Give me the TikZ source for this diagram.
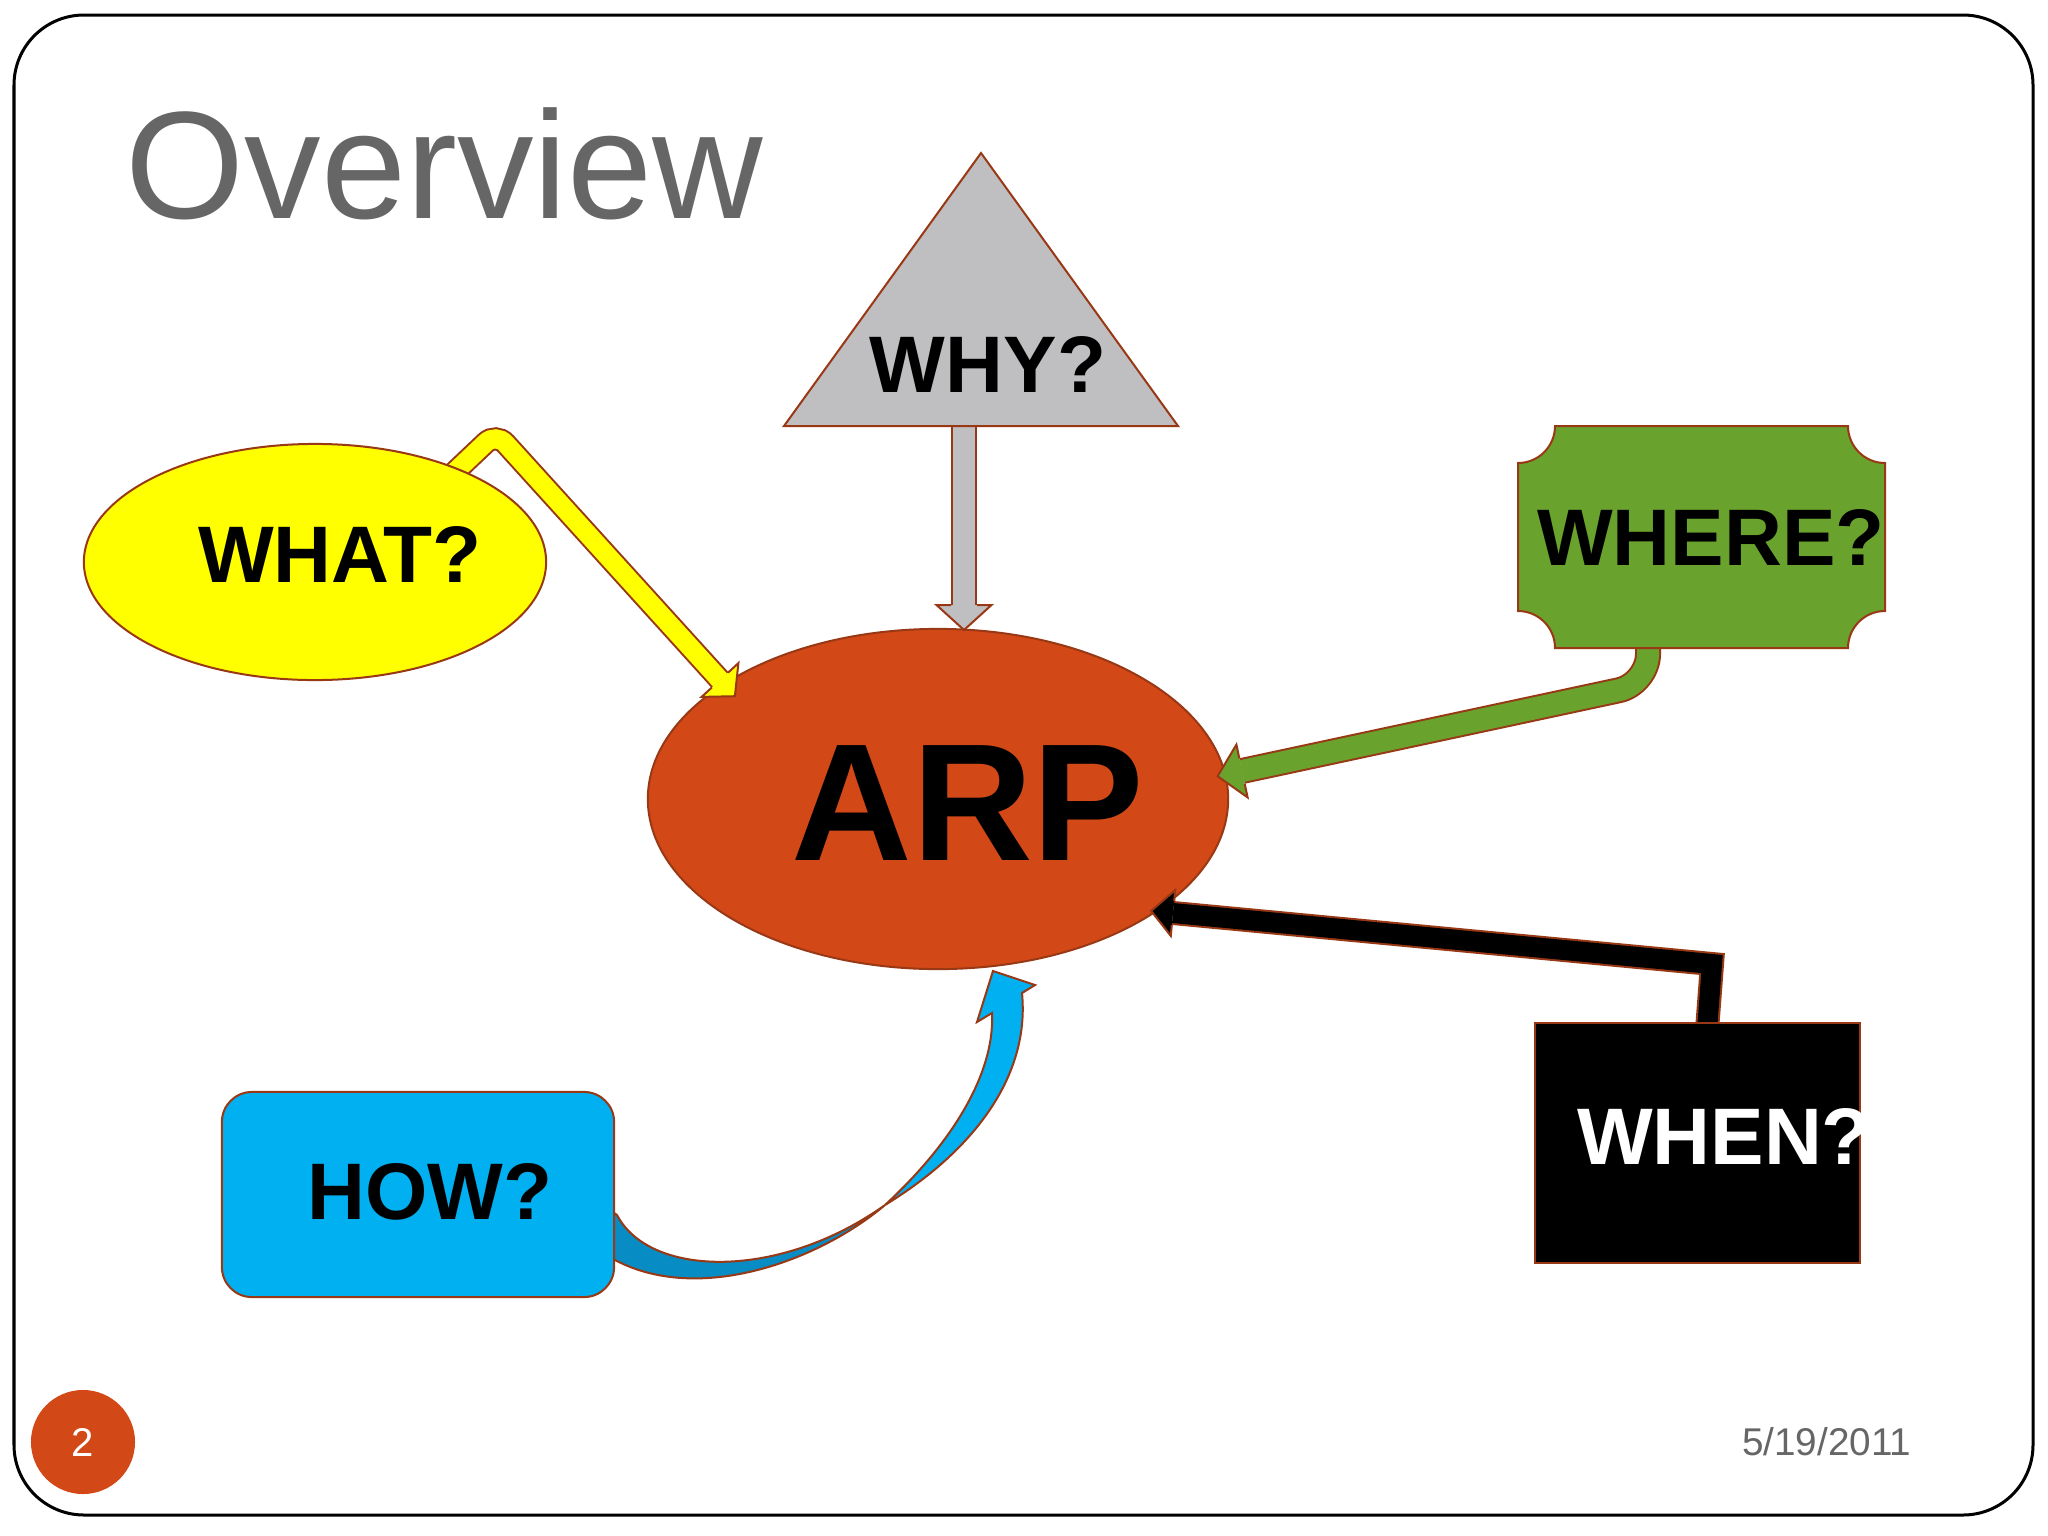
\documentclass[tikz,border=0pt]{standalone}
\usepackage{fontspec}
\setmainfont{Liberation Sans}
\usetikzlibrary{shapes.geometric}
\definecolor{edge}{RGB}{152,56,20}
\definecolor{arpc}{RGB}{211,72,23}
\definecolor{yel}{RGB}{255,255,0}
\definecolor{grayf}{RGB}{191,190,193}
\definecolor{greenf}{RGB}{106,162,46}
\definecolor{bluef}{RGB}{0,176,240}
\definecolor{blued}{RGB}{8,140,196}
\definecolor{titleg}{RGB}{102,102,102}
\pgfdeclarelayer{back}
\pgfdeclarelayer{mid}
\pgfsetlayers{back,mid,main}
\begin{document}
\begin{tikzpicture}[x=0.01cm,y=-0.01cm,
  outl/.style={draw=edge, line width=0.02cm},
  band/.style={draw=edge, line width=0.02cm, double=#1, double distance=0.2cm},
  lbl/.style={font=\fontsize{22.8}{24}\selectfont\bfseries, inner sep=0},
]
\useasboundingbox (0,0) rectangle (2048,1536);
\begin{pgfonlayer}{back}
\fill[white] (0,0) rectangle (2048,1536);
% central ellipse
\node[ellipse, outl, fill=arpc, minimum width=5.8cm, minimum height=3.4cm, inner sep=0] (arp) at (938,799) {};
\end{pgfonlayer}
% slide frame
\draw[line width=0.03cm, rounded corners=0.7cm] (14,15) rectangle (2033,1515);

% title
\node[anchor=base west, inner sep=0, text=titleg, font=\fontsize{43.5}{50}\selectfont] (title) at (125,218) {Overview};

\node[inner sep=0, font=\fontsize{47.5}{50}\selectfont\bfseries] (arptext) at (968,803) {ARP};

% outer shapes
\draw[outl, fill=grayf] (981,153) -- (1178,426) -- (784,426) -- cycle;
\node[lbl] (why) at (988,365) {WHY?};

\node[ellipse, outl, fill=yel, minimum width=4.62cm, minimum height=2.36cm, inner sep=0] (what) at (315,562) {};
\node[lbl] (whattext) at (340,554) {WHAT?};

\draw[outl, fill=greenf] (1555,426) -- (1848,426) arc[start angle=180, end angle=90, radius=37]
  -- (1885,611) arc[start angle=270, end angle=180, radius=37]
  -- (1555,648) arc[start angle=0, end angle=-90, radius=37]
  -- (1518,463) arc[start angle=90, end angle=0, radius=37] -- cycle;
\node[lbl] (where) at (1711,537) {WHERE?};

\node[rectangle, outl, fill=black, minimum width=3.25cm, minimum height=2.4cm, inner sep=0] (when) at (1697.5,1143) {};
\node[lbl, text=white] (whentext) at (1724,1136) {WHEN?};

\node[rectangle, rounded corners=0.3cm, outl, fill=bluef, minimum width=3.92cm, minimum height=2.05cm, inner sep=0] (how) at (418,1194.5) {};
\node[lbl] (howtext) at (430,1192) {HOW?};

% footer
\node[circle, fill=arpc, minimum size=1.04cm, inner sep=0, text=white, font=\fontsize{11.4}{12}\selectfont] (pnum) at (83,1442) {2};
\node[anchor=base east, inner sep=0, text=titleg, font=\fontsize{11}{12}\selectfont] (date) at (1912,1455) {5/19/2011};

% block arrows
\begin{pgfonlayer}{mid}
% WHY -> ARP
\coordinate (gS) at (964,420); \coordinate (gB) at (964,605);
\draw[band=grayf, double distance=0.22cm] (gS) -- (gB);
\fill[grayf] (977,605) -- (991.5,605) -- (964,630) -- (936.5,605) -- (951,605) -- cycle;
\draw[outl] (977,605) -- (991.5,605) -- (964,630) -- (936.5,605) -- (951,605);

% WHAT -> ARP
\coordinate (yS) at (440,486); \coordinate (yK) at (496,433); \coordinate (yB) at (720,680);
\draw[band=yel, double distance=0.19cm, rounded corners=0.14cm] (yS) -- (yK) -- (yB);
\fill[yel] (728.1,672.6) -- (738.4,663.1) -- (734.9,696.2) -- (701.6,696.9) -- (711.9,687.4) -- cycle;
\draw[outl] (728.1,672.6) -- (738.4,663.1) -- (734.9,696.2) -- (701.6,696.9) -- (711.9,687.4);

% WHERE -> ARP
\coordinate (eS) at (1648,640); \coordinate (eK) at (1648,684); \coordinate (eB) at (1242,771);
\draw[band=greenf, double distance=0.22cm, rounded corners=0.3cm] (eS) -- (eK) -- (eB);
\fill[greenf] (1244.7,783.7) -- (1247.6,797.4) -- (1217.6,776.2) -- (1236.4,744.6) -- (1239.3,758.3) -- cycle;
\draw[outl] (1244.7,783.7) -- (1247.6,797.4) -- (1217.6,776.2) -- (1236.4,744.6) -- (1239.3,758.3);

% WHEN -> ARP
\coordinate (bS) at (1707,1030); \coordinate (bK) at (1712,964); \coordinate (bB) at (1173,913);
\draw[band=black, double distance=0.2cm] (bS) -- (bK) -- (bB);
\fill[black] (1174.2,901.1) -- (1175.2,890.1) -- (1151.1,910.9) -- (1170.8,935.9) -- (1171.8,924.9) -- cycle;
\draw[outl] (1174.2,901.1) -- (1175.2,890.1) -- (1151.1,910.9) -- (1170.8,935.9) -- (1171.8,924.9);

% HOW -> ARP (twisted ribbon)
\coordinate (hX) at (885,1205);
\draw[outl, fill=blued] (600,1203) -- (617,1215) .. controls (650,1278) and (780,1280) .. (hX)
  .. controls (820,1260) and (700,1305) .. (615,1260) -- (600,1258) -- cycle;
\draw[outl, fill=bluef] (hX) .. controls (950,1145) and (995,1075) .. (992,1013) -- (977,1022) -- (993,971)
  -- (1035,985) -- (1022,993) .. controls (1030,1075) and (975,1150) .. (hX) -- cycle;
\end{pgfonlayer}
\end{tikzpicture}
\end{document}
